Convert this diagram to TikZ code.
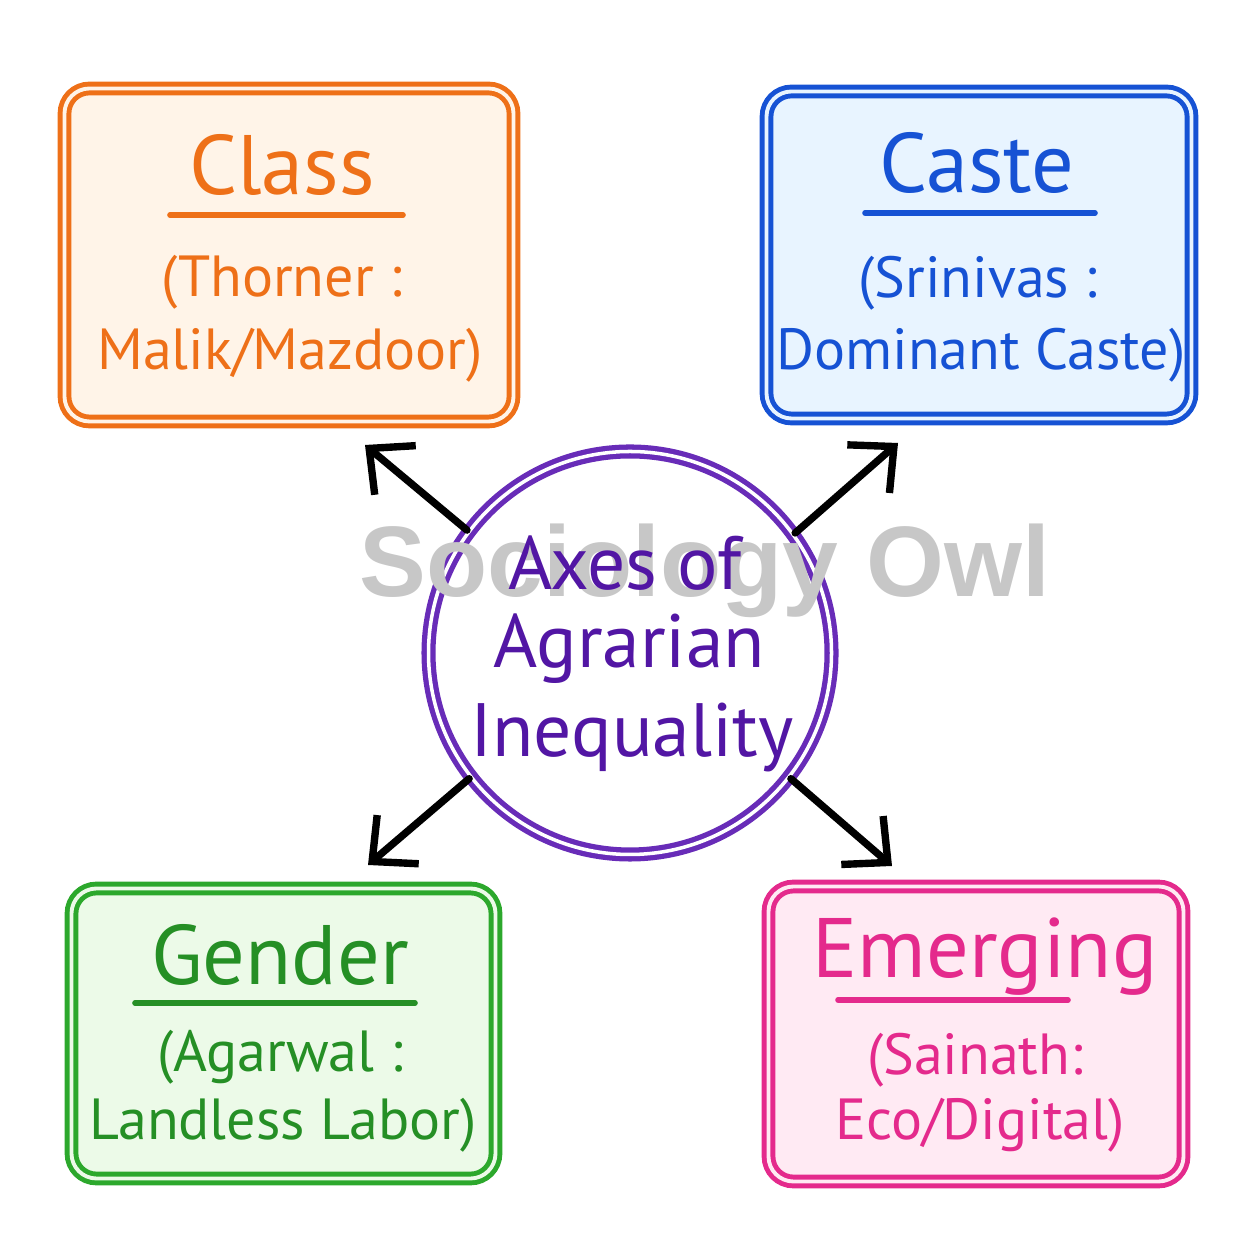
\documentclass[tikz,border=0pt]{standalone}
\usepackage{fontspec}
\setmainfont{PT Sans}
\newfontfamily\markfont{Liberation Sans}
\usetikzlibrary{arrows.meta}

\definecolor{clsLine}{RGB}{238,112,24}
\definecolor{clsFill}{RGB}{255,244,232}
\definecolor{cstLine}{RGB}{22,82,212}
\definecolor{cstFill}{RGB}{232,244,255}
\definecolor{gndLine}{RGB}{44,168,44}
\definecolor{gndFill}{RGB}{236,250,232}
\definecolor{emgLine}{RGB}{228,42,140}
\definecolor{emgFill}{RGB}{255,234,243}
\definecolor{ctrLine}{RGB}{104,44,184}
\definecolor{ctrText}{RGB}{82,22,164}

\begin{document}
\begin{tikzpicture}[
	box/.style={rectangle, rounded corners=0.25cm, line width=1.4pt, double distance=1.1pt, inner sep=0pt},
	ttl/.style={anchor=base, font=\fontsize{24}{30}\selectfont},
	sub/.style={anchor=base, font=\fontsize{16.5}{20}\selectfont},
	axis/.style={anchor=base, text=ctrText, font=\fontsize{21.5}{26}\selectfont},
	uline/.style={line width=1.6pt, line cap=round},
	spoke/.style={line width=2.1pt, line cap=round, -{Straight Barb[length=3.4mm, width=6.4mm, line width=2.1pt]}}
]
	\useasboundingbox (0.00, 0.00) rectangle (12.54, 12.54);

	% the four boxes
	\node[box, draw=clsLine, double=clsFill, fill=clsFill, minimum width=4.49cm, minimum height=3.33cm] (boxClass) at (2.89, 9.99) {};
	\node[box, draw=cstLine, double=cstFill, fill=cstFill, minimum width=4.25cm, minimum height=3.27cm] (boxCaste) at (9.79, 9.99) {};
	\node[box, draw=gndLine, double=gndFill, fill=gndFill, minimum width=4.24cm, minimum height=2.90cm] (boxGender) at (2.835, 2.205) {};
	\node[box, draw=emgLine, double=emgFill, fill=emgFill, minimum width=4.15cm, minimum height=2.95cm] (boxEmerging) at (9.76, 2.20) {};

	% centre
	\node[circle, draw=ctrLine, line width=1.5pt, double=white, double distance=1.0pt, fill=white, minimum size=4.03cm, inner sep=0pt] (ctr) at (6.30, 6.01) {};

	\node[anchor=base, text=black!22, font=\markfont\bfseries\fontsize{28.5}{34}\selectfont] (mark) at (7.05, 6.57) {Sociology Owl};

	\node[axis] (ctrA) at (6.25, 6.64) {Axes of};
	\node[axis] (ctrB) at (6.29, 5.86) {Agrarian};
	\node[axis] (ctrC) at (6.32, 4.97) {Inequality};

	% class
	\node[ttl, text=clsLine] (ttlClass) at (2.82, 10.59) {Class};
	\draw[uline, draw=clsLine] (1.70, 10.39) -- (4.03, 10.39);
	\node[sub, text=clsLine] (subClassA) at (2.82, 9.57) {(Thorner :};
	\node[sub, text=clsLine] (subClassB) at (2.90, 8.84) {Malik/Mazdoor)};

	% caste
	\node[ttl, text=cstLine] (ttlCaste) at (9.77, 10.61) {Caste};
	\draw[uline, draw=cstLine] (8.65, 10.41) -- (10.95, 10.41);
	\node[sub, text=cstLine] (subCasteA) at (9.78, 9.56) {(Srinivas :};
	\node[sub, text=cstLine] (subCasteB) at (9.81, 8.84) {Dominant Caste)};

	% gender
	\node[ttl, text=gndLine!85!black] (ttlGender) at (2.80, 2.69) {Gender};
	\draw[uline, draw=gndLine!85!black] (1.35, 2.51) -- (4.15, 2.51);
	\node[sub, text=gndLine!85!black] (subGenderA) at (2.80, 1.82) {(Agarwal :};
	\node[sub, text=gndLine!85!black] (subGenderB) at (2.83, 1.14) {Landless Labor)};

	% emerging
	\node[ttl, text=emgLine] (ttlEmerging) at (9.85, 2.76) {Emerging};
	\draw[uline, draw=emgLine] (8.38, 2.54) -- (10.68, 2.54);
	\node[sub, text=emgLine] (subEmergingA) at (9.75, 1.79) {(Sainath:};
	\node[sub, text=emgLine] (subEmergingB) at (9.80, 1.14) {Eco/Digital)};

	% spokes
	\coordinate (tipClass) at (3.65, 8.09);
	\coordinate (tipCaste) at (8.98, 8.11);
	\coordinate (tipGender) at (3.68, 3.89);
	\coordinate (tipEmerging) at (8.92, 3.88);
	\draw[spoke] (ctr.143) -- (tipClass);
	\draw[spoke] (ctr.36) -- (tipCaste);
	\draw[spoke] (ctr.218) -- (tipGender);
	\draw[spoke] (ctr.322) -- (tipEmerging);
\end{tikzpicture}
\end{document}
